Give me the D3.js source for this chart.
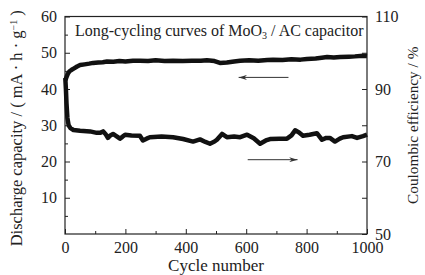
<!DOCTYPE html>
<html>
<head>
<meta charset="utf-8">
<script src="https://cdn.jsdelivr.net/npm/d3@7"></script>
<style>
  body { margin: 0; background: #fff; }
</style>
</head>
<body>
<div id="chart"></div>
<script>
const width = 425
const height = 275
const mLeft = 65, mRight = 367, mTop = 16.5, mBottom = 234
const serif = '"Liberation Serif", "DejaVu Serif", serif'

// discharge capacity (left axis), mA·h/g
const capCycles = [1, 3, 6, 10, 15, 22, 30, 40, 50, 65, 80, 93, 110, 125, 139, 160, 180, 200, 225, 248, 275, 300, 330, 358, 390, 420, 450, 470, 495, 513, 536, 560, 580, 610, 640, 670, 689, 720, 750, 780, 801, 830, 850, 868, 890, 911, 940, 960, 987, 1000]
const capValues = [42.5, 42.8, 43.5, 44.3, 44.9, 45.3, 45.7, 46.2, 46.6, 46.8, 47.0, 47.2, 47.3, 47.4, 47.6, 47.5, 47.7, 47.6, 47.8, 47.8, 47.7, 47.9, 47.7, 47.8, 47.7, 47.8, 47.8, 47.9, 47.7, 47.2, 47.3, 47.6, 47.8, 47.9, 47.8, 48.0, 48.1, 48.0, 48.2, 48.1, 48.3, 48.4, 48.6, 48.8, 48.7, 48.8, 48.9, 49.0, 49.2, 49.1]

// coulombic efficiency (right axis), %
const effCycles = [1, 3, 5, 8, 12, 18, 28, 50, 83, 105, 116, 126, 134, 142, 150, 159, 170, 182, 190, 199, 220, 248, 258, 270, 281, 320, 358, 391, 424, 447, 465, 480, 495, 503, 520, 536, 560, 580, 603, 625, 646, 665, 679, 710, 735, 750, 762, 775, 788, 810, 834, 851, 865, 877, 894, 910, 921, 950, 967, 987, 1000]
const effValues = [93, 90, 86, 82, 80, 79.2, 78.7, 78.5, 78.3, 77.9, 77.9, 78.3, 77.6, 76.5, 77.2, 77.6, 77.0, 76.3, 76.8, 77.4, 77.2, 77.1, 75.8, 76.3, 76.7, 76.9, 76.7, 76.2, 75.5, 76.1, 75.4, 74.9, 75.5, 76.0, 77.6, 76.7, 76.9, 76.7, 77.4, 76.4, 74.9, 75.8, 76.2, 76.3, 76.3, 77.2, 78.6, 78.0, 77.1, 77.4, 77.8, 76.0, 76.5, 76.5, 75.5, 76.3, 76.7, 77.0, 76.5, 77.0, 77.4]

const xTicks = [0, 200, 400, 600, 800, 1000]
const leftTicks = [10, 20, 30, 40, 50, 60]
const rightTicks = [50, 70, 90, 110]

const svg = d3.select('#chart').append('svg')
  .attr('width', width).attr('height', height)
  .style('font-family', serif)

const x = d3.scaleLinear().domain([0, 1000]).range([mLeft, mRight])
const yL = d3.scaleLinear().domain([0, 60]).range([mBottom, mTop])
const yR = d3.scaleLinear().domain([50, 110]).range([mBottom, mTop])

const tickStyle = g => {
  g.attr('font-family', null).attr('font-size', null)
  g.select('.domain').remove()
  g.selectAll('line').attr('stroke', '#222')
  g.selectAll('text').style('font-family', serif).style('font-size', '16px').attr('fill', '#222')
}
const fmt = d3.format('d')

// minor ticks first, then labeled
svg.append('g').attr('transform', `translate(0,${mBottom})`)
  .call(d3.axisBottom(x).tickValues(d3.range(100, 1000, 200)).tickSize(-3).tickFormat(''))
  .call(tickStyle)
svg.append('g').attr('transform', `translate(0,${mBottom})`)
  .call(d3.axisBottom(x).tickValues(xTicks).tickSize(-5).tickPadding(8).tickFormat(fmt))
  .call(tickStyle)

svg.append('g').attr('transform', `translate(${mLeft},0)`)
  .call(d3.axisLeft(yL).tickValues(d3.range(5, 60, 10)).tickSize(-3).tickFormat(''))
  .call(tickStyle)
svg.append('g').attr('transform', `translate(${mLeft},0)`)
  .call(d3.axisLeft(yL).tickValues(leftTicks).tickSize(-5).tickPadding(8).tickFormat(fmt))
  .call(tickStyle)

svg.append('g').attr('transform', `translate(${mRight},0)`)
  .call(d3.axisRight(yR).tickValues([60, 80, 100]).tickSize(-5).tickFormat(''))
  .call(tickStyle)
svg.append('g').attr('transform', `translate(${mRight},0)`)
  .call(d3.axisRight(yR).tickValues(rightTicks).tickSize(-5).tickPadding(8).tickFormat(fmt))
  .call(tickStyle)

svg.append('rect')
  .attr('x', mLeft).attr('y', mTop)
  .attr('width', mRight - mLeft).attr('height', mBottom - mTop)
  .attr('fill', 'none').attr('stroke', '#222').attr('stroke-width', 1.2)

const capLine = d3.line().x((d, i) => x(capCycles[i])).y(d => yL(d))
const effLine = d3.line().x((d, i) => x(effCycles[i])).y(d => yR(d))

svg.append('path').datum(capValues).attr('d', capLine)
  .attr('fill', 'none').attr('stroke', '#111').attr('stroke-width', 4.5).attr('stroke-linejoin', 'round')
svg.append('path').datum(effValues).attr('d', effLine)
  .attr('fill', 'none').attr('stroke', '#111').attr('stroke-width', 4.5).attr('stroke-linejoin', 'round')

// arrows
const defs = svg.append('defs')
defs.append('marker').attr('id', 'head')
  .attr('viewBox', '0 0 10 6').attr('refX', 10).attr('refY', 3)
  .attr('markerWidth', 9).attr('markerHeight', 5).attr('markerUnits', 'userSpaceOnUse')
  .attr('orient', 'auto')
  .append('path').attr('d', 'M0,0 L10,3 L0,6 L3,3 Z').attr('fill', '#333')

svg.append('line')
  .attr('x1', x(740)).attr('x2', x(575)).attr('y1', yL(43.2)).attr('y2', yL(43.2))
  .attr('stroke', '#333').attr('stroke-width', 1).attr('marker-end', 'url(#head)')
svg.append('line')
  .attr('x1', x(605)).attr('x2', x(770)).attr('y1', yR(70.5)).attr('y2', yR(70.5))
  .attr('stroke', '#333').attr('stroke-width', 1).attr('marker-end', 'url(#head)')

// title in box
const title = svg.append('text').attr('x', 75).attr('y', 36)
  .style('font-size', '16px').attr('fill', '#222')
title.append('tspan').text('Long-cycling curves of MoO')
title.append('tspan').attr('dy', 3).style('font-size', '10px').text('3')
title.append('tspan').attr('dy', -3).text(' / AC capacitor')

svg.append('text')
  .attr('x', (mLeft + mRight) / 2).attr('y', 271)
  .attr('text-anchor', 'middle').style('font-size', '17px').attr('fill', '#222')
  .text('Cycle number')

const yLab = svg.append('text')
  .attr('transform', `translate(22,${(mTop + mBottom) / 2 + 3}) rotate(-90)`)
  .attr('text-anchor', 'middle').style('font-size', '16.5px').attr('fill', '#222')
yLab.append('tspan').text('Discharge capacity / ( mA · h · g')
yLab.append('tspan').attr('dy', -5).style('font-size', '10px').text('−1')
yLab.append('tspan').attr('dy', 5).text(' )')

svg.append('text')
  .attr('transform', `translate(418,${(mTop + mBottom) / 2}) rotate(-90)`)
  .attr('text-anchor', 'middle').style('font-size', '15.3px').attr('fill', '#222')
  .text('Coulombic efficiency / %')
</script>
</body>
</html>
